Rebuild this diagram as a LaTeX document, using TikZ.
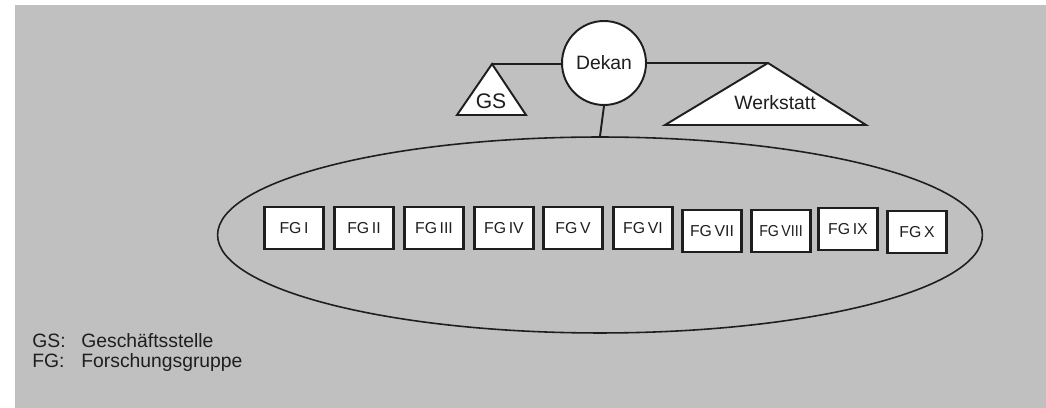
\documentclass[tikz,border=0pt]{standalone}
\usepackage{fontspec}
\setmainfont{Liberation Sans}
\usetikzlibrary{shapes.geometric}
\definecolor{bg}{HTML}{C0C0C0}
\definecolor{ink}{HTML}{1E1E1E}
\begin{document}
\begin{tikzpicture}[x=0.02cm,y=-0.02cm,
  line/.style={draw=ink,line width=1.1pt},
  tri/.style={draw=ink,line width=1.1pt,fill=white,line join=miter},
  fgbox/.style={draw=ink,line width=1.2pt,fill=white,minimum width=1.18cm,minimum height=0.84cm,inner sep=0pt,font=\fontsize{9}{10}\selectfont,text=ink},
  lbl/.style={font=\fontsize{11}{13}\selectfont,text=ink,inner sep=0pt}]
\useasboundingbox (0,0) rectangle (1046,408);
\fill[bg] (15,5) rectangle (1046,408);
% Dekan
\node[circle,draw=ink,line width=1.1pt,fill=white,minimum size=1.68cm,inner sep=0pt,font=\fontsize{11}{13}\selectfont,text=ink] (dekan) at (604,63) {\raisebox{-2pt}{Dekan}};
% GS triangle
\coordinate (gsT) at (492,64);
\coordinate (gsL) at (457,115);
\coordinate (gsR) at (526,115);
\draw[tri] (gsT) -- (gsR) -- (gsL) -- cycle;
\node[lbl,font=\fontsize{12}{14}\selectfont] (gs) at (491,101) {GS};
% Werkstatt triangle
\coordinate (wsT) at (768,63);
\coordinate (wsL) at (665,125);
\coordinate (wsR) at (866,125);
\draw[tri] (wsT) -- (wsR) -- (wsL) -- cycle;
\node[lbl] (ws) at (775,103) {Werkstatt};
% ellipse
\node[ellipse,draw=ink,line width=0.9pt,minimum width=15.3cm,minimum height=3.92cm,inner sep=0pt] (forsch) at (600,235) {};
% connectors
\draw[line] (gsT) -- (dekan.west |- gsT);
\draw[line] (dekan.east) -- (wsT);
\draw[line] (dekan.south) -- (forsch.north);
% FG boxes
\node[fgbox] (fg1) at (294,228) {FG\,I};
\node[fgbox] (fg2) at (364,228) {FG\,II};
\node[fgbox] (fg3) at (434,228) {FG\,III};
\node[fgbox] (fg4) at (504,228) {FG\,IV};
\node[fgbox] (fg5) at (573,228) {FG\,V};
\node[fgbox] (fg6) at (643,228) {FG\,VI};
\node[fgbox] (fg7) at (712,231) {FG\,VII};
\node[fgbox] (fg8) at (781,231) {\scalebox{0.9}[1]{FG\,VIII}};
\node[fgbox] (fg9) at (848,229) {FG\,IX};
\node[fgbox] (fg10) at (917,232) {FG\,X};
% legend
\node[lbl,anchor=base west] (l1a) at (32,348) {GS:};
\node[lbl,anchor=base west] (l1b) at (81,348) {Geschäftsstelle};
\node[lbl,anchor=base west] (l2a) at (32,368) {FG:};
\node[lbl,anchor=base west] (l2b) at (81,368) {Forschungsgruppe};
\end{tikzpicture}
\end{document}
